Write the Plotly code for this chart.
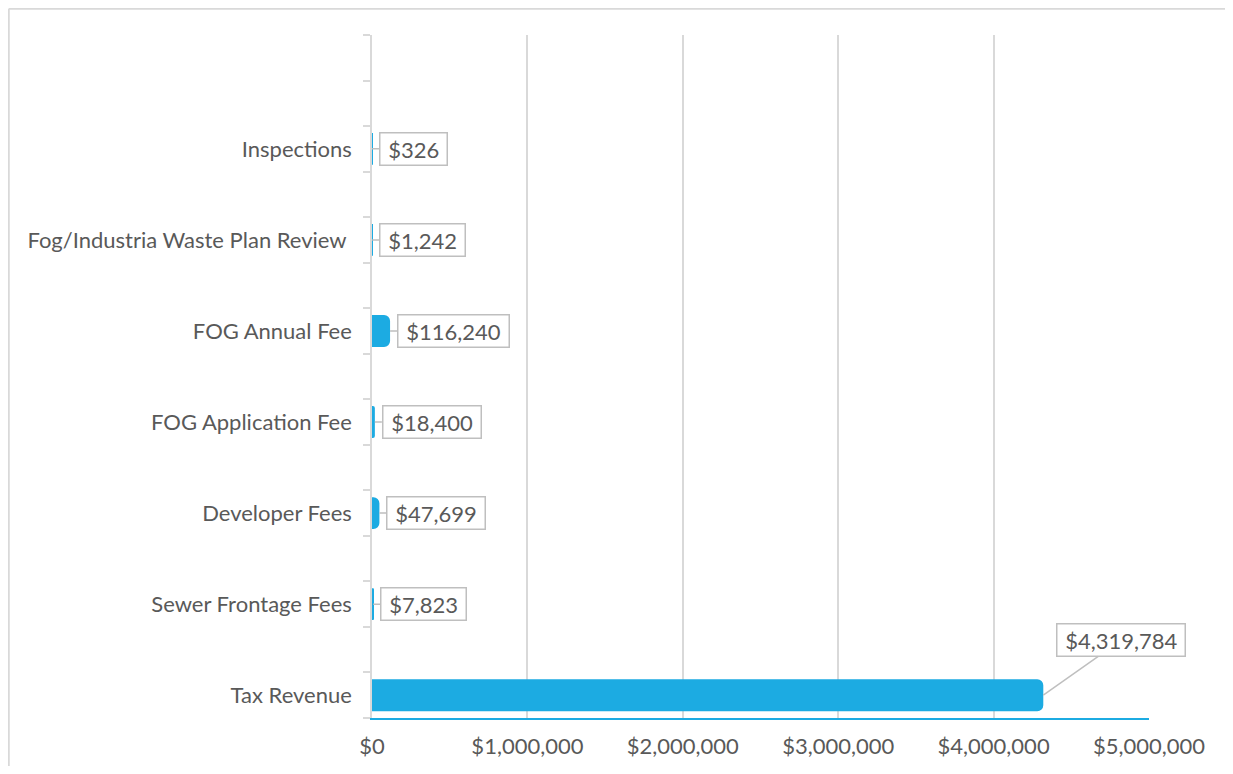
import plotly.graph_objects as go

# Revenue sources (bottom to top), with blank spacer rows as in the source sheet
categories = [
    "Tax Revenue", " ",
    "Sewer Frontage Fees", "  ",
    "Developer Fees", "   ",
    "FOG Application Fee", "    ",
    "FOG Annual Fee", "     ",
    "Fog/Industria Waste Plan Review ", "      ",
    "Inspections", "       ", "        ",
]
bar_labels = [
    "Tax Revenue", "Sewer Frontage Fees", "Developer Fees", "FOG Application Fee",
    "FOG Annual Fee", "Fog/Industria Waste Plan Review ", "Inspections",
]
revenue = [4319784, 7823, 47699, 18400, 116240, 1242, 326]
x_ticks = [0, 1000000, 2000000, 3000000, 4000000, 5000000]
x_tick_text = ["$0", "$1,000,000", "$2,000,000", "$3,000,000", "$4,000,000", "$5,000,000"]

BLUE = "#1CABE2"
GRID = "#D9D9D9"
TEXT = "#595959"
FONT = "Lato"

fig = go.Figure()
fig.add_trace(
    go.Bar(
        x=revenue,
        y=bar_labels,
        orientation="h",
        width=0.7,
        marker=dict(color=BLUE, cornerradius=6, line=dict(width=0)),
        hoverinfo="x+y",
    )
)

# callout labels
for name, val in zip(bar_labels, revenue):
    label = f"\u00a0${val:,}\u00a0"
    if val > 1000000:
        fig.add_annotation(
            x=val, y=name, text=label, showarrow=True,
            ax=78, ay=-55, arrowhead=0, arrowwidth=1.5, arrowcolor="#BFBFBF",
            bordercolor="#BFBFBF", borderwidth=1.5, borderpad=2, bgcolor="white",
            font=dict(family=FONT, size=22, color=TEXT),
        )
    else:
        fig.add_annotation(
            x=val, y=name, text=label, showarrow=True,
            ax=7, ay=0, xanchor="left", arrowhead=0, arrowwidth=1.5, arrowcolor="#BFBFBF",
            bordercolor="#BFBFBF", borderwidth=1.5, borderpad=2, bgcolor="white",
            font=dict(family=FONT, size=22, color=TEXT),
        )

# outer frame (left and top edges only are visible)
fig.add_shape(type="line", xref="paper", yref="paper", x0=-0.4675, x1=-0.4675, y0=-0.1, y1=1.0385,
              line=dict(color=GRID, width=2))
fig.add_shape(type="line", xref="paper", yref="paper", x0=-0.4675, x1=1.12, y0=1.0385, y1=1.0385,
              line=dict(color=GRID, width=2))

fig.update_layout(
    width=1217,
    height=758,
    margin=dict(l=364, r=76, t=27, b=48, autoexpand=False),
    plot_bgcolor="white",
    paper_bgcolor="white",
    showlegend=False,
    font=dict(family=FONT, size=22, color=TEXT),
    xaxis=dict(
        range=[0, 5000000],
        tickvals=x_ticks,
        ticktext=x_tick_text,
        showgrid=True,
        gridcolor=GRID,
        gridwidth=1.5,
        zeroline=False,
        showline=True,
        linecolor=BLUE,
        linewidth=2,
        ticks="",
        ticklabelstandoff=8,
        automargin=False,
        tickfont=dict(size=22, color=TEXT),
    ),
    yaxis=dict(
        type="category",
        categoryorder="array",
        categoryarray=categories,
        range=[-0.5, 14.5],
        tickson="boundaries",
        ticks="outside",
        ticklen=7,
        tickcolor=GRID,
        tickwidth=1.5,
        showgrid=False,
        showline=True,
        linecolor=GRID,
        linewidth=1.5,
        ticklabelstandoff=14,
        automargin=False,
        tickfont=dict(size=22, color=TEXT),
    ),
)

fig.write_html("out.html")
